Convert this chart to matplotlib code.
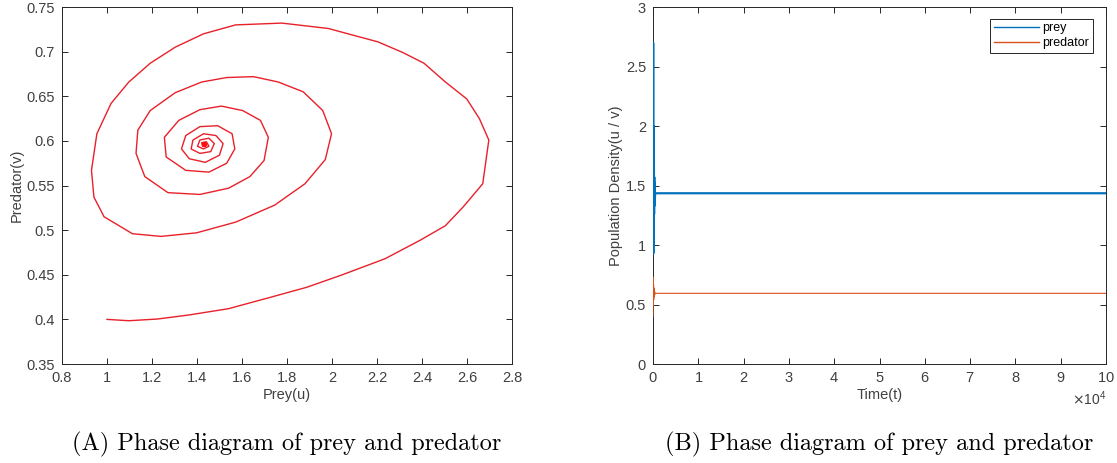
import matplotlib
matplotlib.use("Agg")
import matplotlib.pyplot as plt
from matplotlib.ticker import ScalarFormatter

# phase path
prey_u = [1.000, 1.097, 1.224, 1.366, 1.540, 1.730, 1.888, 2.046, 2.236, 2.394,
          2.504, 2.583, 2.670, 2.697, 2.655, 2.599, 2.504, 2.409, 2.315, 2.204,
          1.983, 1.777, 1.572, 1.429, 1.303, 1.192, 1.097, 1.018, 0.955, 0.931,
          0.942, 0.987, 1.113, 1.240, 1.398, 1.572, 1.745, 1.880, 1.970, 1.998,
          1.959, 1.872, 1.761, 1.651, 1.532, 1.421, 1.303, 1.192, 1.137, 1.129,
          1.168, 1.271, 1.413, 1.540, 1.635, 1.698, 1.717, 1.682, 1.603, 1.508,
          1.413, 1.319, 1.255, 1.263, 1.350, 1.453, 1.532, 1.568, 1.556, 1.492,
          1.413, 1.350, 1.331, 1.366, 1.437, 1.500, 1.516, 1.484, 1.429, 1.382,
          1.374, 1.413, 1.461, 1.477, 1.453, 1.413, 1.402, 1.429, 1.453, 1.442,
          1.421, 1.425, 1.437, 1.433, 1.428, 1.430]
pred_v = [0.400, 0.3985, 0.4004, 0.405, 0.412, 0.425, 0.436, 0.450, 0.468, 0.489,
          0.505, 0.526, 0.552, 0.601, 0.625, 0.647, 0.666, 0.687, 0.699, 0.711,
          0.726, 0.732, 0.730, 0.720, 0.705, 0.687, 0.666, 0.642, 0.608, 0.567,
          0.537, 0.515, 0.496, 0.493, 0.497, 0.509, 0.528, 0.552, 0.579, 0.608,
          0.634, 0.655, 0.666, 0.672, 0.671, 0.666, 0.654, 0.634, 0.612, 0.586,
          0.560, 0.542, 0.540, 0.547, 0.560, 0.578, 0.604, 0.623, 0.634, 0.639,
          0.635, 0.623, 0.604, 0.582, 0.567, 0.565, 0.575, 0.591, 0.608, 0.617,
          0.616, 0.606, 0.591, 0.580, 0.576, 0.584, 0.597, 0.606, 0.608, 0.601,
          0.591, 0.586, 0.588, 0.597, 0.603, 0.601, 0.594, 0.591, 0.594, 0.599,
          0.598, 0.594, 0.595, 0.598, 0.597, 0.596]
equilibrium = (1.43, 0.596)

# time series of panel (B)
time_t = [0, 40, 80, 120, 160, 200, 240, 280, 320, 360, 400, 480, 100000]
prey_t = [1.00, 2.70, 0.93, 2.00, 1.13, 1.72, 1.26, 1.57, 1.33, 1.52, 1.38, 1.435, 1.435]
pred_t = [0.40, 0.73, 0.49, 0.67, 0.54, 0.64, 0.565, 0.617, 0.576, 0.608, 0.586, 0.594, 0.594]

captions = ["(A) Phase diagram of prey and predator",
            "(B) Phase diagram of prey and predator"]

plt.rcParams['font.family'] = ['Liberation Sans', 'DejaVu Sans']
tick_col = '#404040'


def matlab_axes(ax):
    ax.tick_params(direction='in', top=True, right=True, length=4, width=0.7,
                   labelsize=10.5, colors='#262626', labelcolor=tick_col, pad=5)
    for s in ax.spines.values():
        s.set_color('#262626')
        s.set_linewidth(0.7)


fig = plt.figure(figsize=(11.17, 4.63), dpi=100)
ax1 = fig.add_axes([62 / 1117, 0.2138, 450 / 1117, 0.771])
ax2 = fig.add_axes([653 / 1117, 0.2138, 453 / 1117, 0.771])

ax1.plot(prey_u, pred_v, color='#e8202a', lw=1.0)
ax1.plot(*equilibrium, 'o', color='#ff1010', ms=3)
ax1.set_xlim(0.8, 2.8)
ax1.set_ylim(0.35, 0.75)
ax1.set_xticks([0.8 + 0.2 * i for i in range(11)])
ax1.set_xticklabels(['0.8', '1', '1.2', '1.4', '1.6', '1.8', '2', '2.2', '2.4', '2.6', '2.8'])
ax1.set_yticks([0.35 + 0.05 * i for i in range(9)])
ax1.set_yticklabels(['0.35', '0.4', '0.45', '0.5', '0.55', '0.6', '0.65', '0.7', '0.75'])
ax1.set_xlabel('Prey(u)', fontsize=10.5, color=tick_col, labelpad=2)
ax1.set_ylabel('Predator(v)', fontsize=10.5, color=tick_col, labelpad=2)
matlab_axes(ax1)

ax2.plot(time_t, prey_t, color='#0072BD', lw=1.6, label='prey', zorder=3)
ax2.plot(time_t, pred_t, color='#D95319', lw=0.8, label='predator', zorder=3)
ax2.set_xlim(0, 100000)
ax2.set_ylim(0, 3)
ax2.set_xticks([10000 * i for i in range(11)])
ax2.set_yticks([0, 0.5, 1, 1.5, 2, 2.5, 3])
ax2.set_yticklabels(['0', '0.5', '1', '1.5', '2', '2.5', '3'])
fmt = ScalarFormatter(useMathText=True)
fmt.set_powerlimits((4, 4))
ax2.xaxis.set_major_formatter(fmt)
ax2.xaxis.get_offset_text().set_fontsize(10)
ax2.xaxis.get_offset_text().set_color(tick_col)
ax2.set_xlabel('Time(t)', fontsize=10.5, color=tick_col, labelpad=2)
ax2.set_ylabel('Population Density(u / v)', fontsize=10.5, color=tick_col, labelpad=2)
matlab_axes(ax2)
leg = ax2.legend(loc='upper right', fontsize=9, fancybox=False, framealpha=1,
                 handlelength=3.6, handletextpad=0.3, borderpad=0.3,
                 labelspacing=0.2, bbox_to_anchor=(0.985, 0.985))
leg.get_frame().set_edgecolor('#262626')
leg.get_frame().set_linewidth(0.7)
for h in leg.get_lines():
    h.set_linewidth(1.0)

fig.text(287 / 1117, 0.041, captions[0], family='cmr10', fontsize=17.5, ha='center', va='center')
fig.text(879 / 1117, 0.041, captions[1], family='cmr10', fontsize=17.5, ha='center', va='center')

fig.savefig('out.png', dpi=100)
